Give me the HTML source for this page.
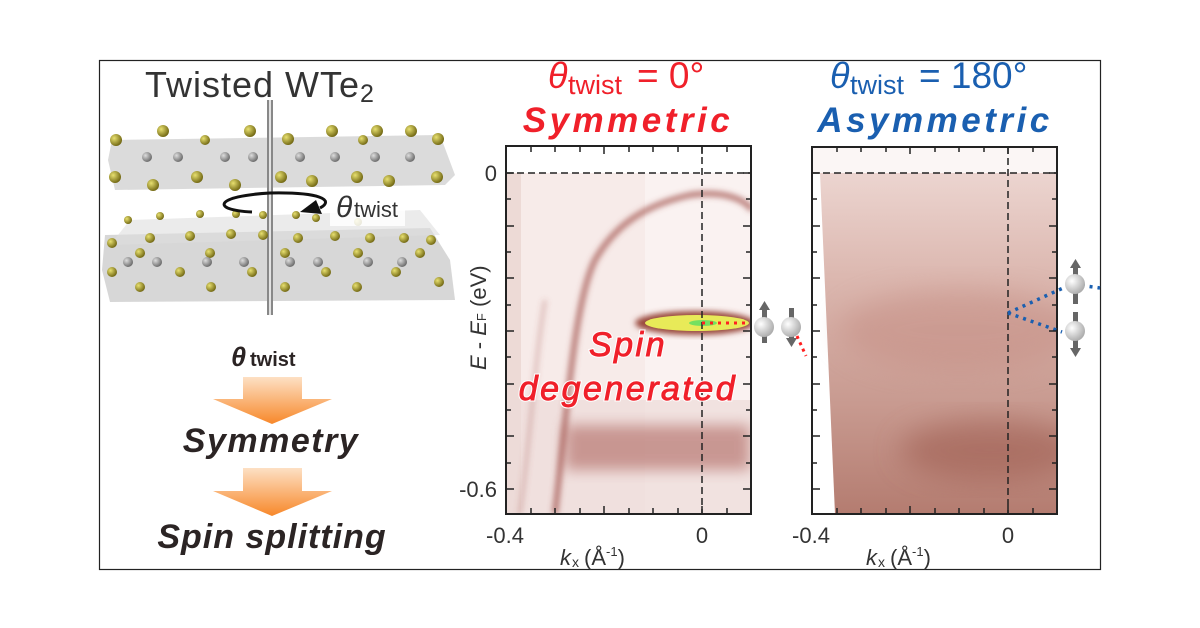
<!DOCTYPE html>
<html><head><meta charset="utf-8"><style>
html,body{margin:0;padding:0;background:#fff;width:1200px;height:628px;overflow:hidden}
svg{display:block}
text{font-family:"Liberation Sans",Arial,sans-serif}
</style></head><body>
<svg width="1200" height="628" viewBox="0 0 1200 628" xmlns="http://www.w3.org/2000/svg">
<defs>
<filter id="b3" x="-20%" y="-20%" width="140%" height="140%"><feGaussianBlur stdDeviation="3"/></filter>
<filter id="b6" x="-30%" y="-30%" width="160%" height="160%"><feGaussianBlur stdDeviation="7"/></filter>
<filter id="b12" x="-30%" y="-30%" width="160%" height="160%"><feGaussianBlur stdDeviation="14"/></filter>
<linearGradient id="orange" x1="0" y1="0" x2="0" y2="1"><stop offset="0" stop-color="#fde0c4"/><stop offset="1" stop-color="#f7882a"/></linearGradient>
<linearGradient id="p2" x1="0" y1="0" x2="0" y2="1"><stop offset="0" stop-color="#f0dcd8"/><stop offset="0.35" stop-color="#dcb8b0"/><stop offset="0.7" stop-color="#c89a90"/><stop offset="1" stop-color="#b47c70"/></linearGradient>
<radialGradient id="ball" cx="0.35" cy="0.35" r="0.7"><stop offset="0" stop-color="#fff"/><stop offset="1" stop-color="#aaa"/></radialGradient>
<radialGradient id="au" cx="0.35" cy="0.35" r="0.7"><stop offset="0" stop-color="#e8e070"/><stop offset="1" stop-color="#6e6410"/></radialGradient>
<radialGradient id="wb" cx="0.35" cy="0.35" r="0.7"><stop offset="0" stop-color="#ddd"/><stop offset="1" stop-color="#666"/></radialGradient>
<clipPath id="c1"><rect x="506" y="146" width="245" height="368"/></clipPath>
<clipPath id="c2"><rect x="812" y="147" width="245" height="367"/></clipPath>
</defs>
<rect x="99.5" y="60.5" width="1001" height="509" fill="none" stroke="#222" stroke-width="1.2"/>

<text x="145" y="97" font-size="36" fill="#333" letter-spacing="1">Twisted WTe<tspan font-size="25" dy="5">2</tspan></text>
<g>
<polygon points="112,140 440,135 455,175 445,185 115,190 108,160" fill="#cfcfcf" opacity="0.75"/>
<polygon points="105,235 430,228 450,260 455,300 110,302 102,270" fill="#cacaca" opacity="0.75"/>
<polygon points="130,220 420,210 440,235 110,245" fill="#dedede" opacity="0.6"/>
<line x1="270" y1="100" x2="270" y2="315" stroke="#888" stroke-width="6"/>
<line x1="270" y1="100" x2="270" y2="315" stroke="#fff" stroke-width="1.5"/>
<g fill="url(#au)">
<circle cx="116" cy="140" r="6"/><circle cx="163" cy="131" r="6"/><circle cx="250" cy="131" r="6"/><circle cx="288" cy="139" r="6"/><circle cx="332" cy="131" r="6"/><circle cx="377" cy="131" r="6"/><circle cx="411" cy="131" r="6"/><circle cx="438" cy="139" r="6"/><circle cx="363" cy="140" r="5"/><circle cx="205" cy="140" r="5"/>
<circle cx="115" cy="177" r="6"/><circle cx="153" cy="185" r="6"/><circle cx="197" cy="177" r="6"/><circle cx="235" cy="185" r="6"/><circle cx="281" cy="177" r="6"/><circle cx="312" cy="181" r="6"/><circle cx="357" cy="177" r="6"/><circle cx="389" cy="181" r="6"/><circle cx="437" cy="177" r="6"/>
<circle cx="112" cy="243" r="5"/><circle cx="150" cy="238" r="5"/><circle cx="190" cy="236" r="5"/><circle cx="231" cy="234" r="5"/><circle cx="263" cy="235" r="5"/><circle cx="298" cy="238" r="5"/><circle cx="335" cy="236" r="5"/><circle cx="370" cy="238" r="5"/><circle cx="404" cy="238" r="5"/><circle cx="431" cy="240" r="5"/>
<circle cx="128" cy="220" r="4"/><circle cx="160" cy="216" r="4"/><circle cx="200" cy="214" r="4"/><circle cx="236" cy="214" r="4"/><circle cx="263" cy="215" r="4"/><circle cx="296" cy="215" r="4"/><circle cx="316" cy="218" r="4"/><circle cx="358" cy="222" r="4"/>
<circle cx="112" cy="272" r="5"/><circle cx="140" cy="287" r="5"/><circle cx="180" cy="272" r="5"/><circle cx="211" cy="287" r="5"/><circle cx="252" cy="272" r="5"/><circle cx="285" cy="287" r="5"/><circle cx="326" cy="272" r="5"/><circle cx="357" cy="287" r="5"/><circle cx="396" cy="272" r="5"/><circle cx="439" cy="282" r="5"/>
<circle cx="140" cy="253" r="5"/><circle cx="210" cy="253" r="5"/><circle cx="285" cy="253" r="5"/><circle cx="358" cy="253" r="5"/><circle cx="420" cy="253" r="5"/>
</g>
<g fill="url(#wb)">
<circle cx="147" cy="157" r="5"/><circle cx="178" cy="157" r="5"/><circle cx="225" cy="157" r="5"/><circle cx="253" cy="157" r="5"/><circle cx="300" cy="157" r="5"/><circle cx="335" cy="157" r="5"/><circle cx="375" cy="157" r="5"/><circle cx="410" cy="157" r="5"/>
<circle cx="128" cy="262" r="5"/><circle cx="157" cy="262" r="5"/><circle cx="207" cy="262" r="5"/><circle cx="244" cy="262" r="5"/><circle cx="290" cy="262" r="5"/><circle cx="318" cy="262" r="5"/><circle cx="368" cy="262" r="5"/><circle cx="402" cy="262" r="5"/>
</g>
<rect x="330" y="192" width="75" height="34" fill="#fff" opacity="0.85"/>
<path d="M252,212 C210,210 215,196 270,193 C320,192 335,200 320,208" fill="none" stroke="#111" stroke-width="3"/>
<polygon points="300,212 316,200 322,214" fill="#111"/>
<text x="336" y="217" font-size="30" font-family="Liberation Serif,serif" font-style="italic" fill="#333">θ</text>
<text x="354" y="217" font-size="22" fill="#333">twist</text>
</g>

<text x="231" y="366" font-size="27" font-family="Liberation Serif,serif" font-style="italic" font-weight="bold" fill="#2b2424">θ</text>
<text x="250" y="366" font-size="20" font-weight="bold" fill="#2b2424">twist</text>
<polygon points="243,377 302,377 302,399 332,399 272,424 213,399 243,399" fill="url(#orange)"/>
<text x="271" y="452" font-size="34" font-weight="bold" font-style="italic" fill="#2b2424" text-anchor="middle" letter-spacing="1.5">Symmetry</text>
<polygon points="243,468 302,468 302,491 332,491 272,516 213,491 243,491" fill="url(#orange)"/>
<text x="272" y="548" font-size="34" font-weight="bold" font-style="italic" fill="#2b2424" text-anchor="middle" letter-spacing="1">Spin splitting</text>

<!-- panel titles -->
<text x="548" y="88" font-size="36" font-family="Liberation Serif,serif" font-style="italic" fill="#f0202a">θ</text>
<text x="568" y="94" font-size="27" fill="#f0202a">twist</text>
<text x="637" y="88" font-size="37" fill="#f0202a">= 0°</text>
<text x="628" y="132" font-size="35" font-weight="bold" font-style="italic" fill="#f0202a" text-anchor="middle" letter-spacing="3.5">Symmetric</text>
<text x="830" y="88" font-size="36" font-family="Liberation Serif,serif" font-style="italic" fill="#1a5fb0">θ</text>
<text x="850" y="94" font-size="27" fill="#1a5fb0">twist</text>
<text x="919" y="88" font-size="37" fill="#1a5fb0">= 180°</text>
<text x="935" y="132" font-size="35" font-weight="bold" font-style="italic" fill="#1a5fb0" text-anchor="middle" letter-spacing="3.5">Asymmetric</text>

<!-- panel 1 -->
<g clip-path="url(#c1)">
<rect x="506" y="146" width="245" height="368" fill="#faf2f1"/>
<rect x="506" y="173" width="139" height="341" fill="#f7ebe9"/>
<rect x="506" y="146" width="245" height="27" fill="#fff"/>
<rect x="506" y="173" width="15" height="341" fill="#eddad6"/>
<rect x="506" y="400" width="245" height="114" fill="#ecdcd8" opacity="0.7"/>
<g filter="url(#b3)" fill="none" stroke="#a05048">
<path d="M555,514 C568,400 575,300 595,260 C615,225 645,205 690,195 C725,190 745,200 752,210" stroke-width="6" opacity="0.7"/>
<path d="M520,514 C530,440 535,360 545,300" stroke-width="4" opacity="0.3"/>
</g>
<rect x="565" y="425" width="185" height="45" fill="#a85a52" opacity="0.55" filter="url(#b6)"/>
<ellipse cx="695" cy="323" rx="60" ry="12" fill="#9a4a3c" filter="url(#b3)"/>
<ellipse cx="697" cy="323" rx="52" ry="8" fill="#e8ea58"/>
<ellipse cx="703" cy="323" rx="14" ry="3" fill="#74e060"/>
<line x1="506" y1="173" x2="751" y2="173" stroke="#222" stroke-width="1.5" stroke-dasharray="7,4"/>
<line x1="702" y1="146" x2="702" y2="514" stroke="#222" stroke-width="1.5" stroke-dasharray="7,4"/>
<line x1="702" y1="323" x2="752" y2="323" stroke="#ff2020" stroke-width="3" stroke-dasharray="3,5"/>
</g>
<rect x="506" y="146" width="245" height="368" fill="none" stroke="#222" stroke-width="2"/>
<g font-size="34" font-style="italic" text-anchor="middle" letter-spacing="2.5" stroke-width="3" paint-order="stroke">
<text x="628" y="356" fill="#f0202a" stroke="#fff">Spin</text>
<text x="628" y="400" fill="#f0202a" stroke="#fff">degenerated</text>
<text x="938" y="356" fill="#1a5fb0" stroke="#fff">Spin</text>
<text x="938" y="400" fill="#1a5fb0" stroke="#fff">splitting</text>
</g>
<g font-size="34" font-style="italic" text-anchor="middle" letter-spacing="2.5" stroke-width="0.9" fill="none">
<text x="628" y="356" stroke="#f0202a">Spin</text>
<text x="628" y="400" stroke="#f0202a">degenerated</text>
<text x="938" y="356" stroke="#1a5fb0">Spin</text>
<text x="938" y="400" stroke="#1a5fb0">splitting</text>
</g>

<!-- panel 2 -->
<g clip-path="url(#c2)">
<rect x="812" y="147" width="245" height="367" fill="url(#p2)"/>
<rect x="812" y="147" width="245" height="26" fill="#fbf6f5"/>
<polygon points="812,173 820,173 835,514 812,514" fill="#fff"/>
<ellipse cx="960" cy="330" rx="120" ry="40" fill="#c48c82" opacity="0.5" filter="url(#b12)"/>
<ellipse cx="990" cy="450" rx="90" ry="30" fill="#9c5a4e" opacity="0.55" filter="url(#b12)"/>
<line x1="812" y1="173" x2="1057" y2="173" stroke="#222" stroke-width="1.5" stroke-dasharray="7,4"/>
<line x1="1008" y1="147" x2="1008" y2="514" stroke="#222" stroke-width="1.5" stroke-dasharray="7,4"/>
</g>
<rect x="812" y="147" width="245" height="367" fill="none" stroke="#222" stroke-width="2"/>
<g stroke="#1a5fb0" stroke-width="3.5" stroke-dasharray="3,5" fill="none">
<path d="M1008,313 L1072,284 L1100,288"/>
<path d="M1008,313 L1062,332"/>
</g>

<g stroke="#222" stroke-width="1.5">
<path d="M506,173h8M506,199h5M506,226h8M506,252h5M506,278h8M506,305h5M506,331h8M506,357h5M506,384h8M506,410h5M506,436h8M506,463h5M506,489h8
M751,173h-8M751,199h-5M751,226h-8M751,252h-5M751,278h-8M751,305h-5M751,331h-8M751,357h-5M751,384h-8M751,410h-5M751,436h-8M751,463h-5M751,489h-8
M531,514v-6M555,514v-6M580,514v-6M604,514v-8M629,514v-6M653,514v-6M678,514v-6M702,514v-8M727,514v-6
M531,146v6M555,146v6M580,146v6M604,146v8M629,146v6M653,146v6M678,146v6M702,146v8M727,146v6"/>
<path transform="translate(306,0)" d="M506,173h8M506,199h5M506,226h8M506,252h5M506,278h8M506,305h5M506,331h8M506,357h5M506,384h8M506,410h5M506,436h8M506,463h5M506,489h8
M751,173h-8M751,199h-5M751,226h-8M751,252h-5M751,278h-8M751,305h-5M751,331h-8M751,357h-5M751,384h-8M751,410h-5M751,436h-8M751,463h-5M751,489h-8
M531,514v-6M555,514v-6M580,514v-6M604,514v-8M629,514v-6M653,514v-6M678,514v-6M702,514v-8M727,514v-6
M531,146v6M555,146v6M580,146v6M604,146v8M629,146v6M653,146v6M678,146v6M702,146v8M727,146v6"/>
</g>
<g font-size="22" fill="#333">
<text x="497" y="181" text-anchor="end">0</text>
<text x="497" y="497" text-anchor="end">-0.6</text>
<text x="505" y="543" text-anchor="middle">-0.4</text>
<text x="702" y="543" text-anchor="middle">0</text>
<text x="811" y="543" text-anchor="middle">-0.4</text>
<text x="1008" y="543" text-anchor="middle">0</text>
<text x="560" y="565" font-style="italic">k</text><text x="572" y="567" font-size="14">x</text><text x="584" y="565"> (Å<tspan font-size="13" dy="-9">-1</tspan><tspan dy="9">)</tspan></text>
<text x="866" y="565" font-style="italic">k</text><text x="878" y="567" font-size="14">x</text><text x="890" y="565"> (Å<tspan font-size="13" dy="-9">-1</tspan><tspan dy="9">)</tspan></text>
<text transform="translate(486,370) rotate(-90)"><tspan font-style="italic">E</tspan> - <tspan font-style="italic">E</tspan><tspan font-size="13">F</tspan> (eV)</text>
</g>

<g>
<rect x="762" y="305" width="5" height="38" fill="#666"/><polygon points="759,310 764.5,301 770,310" fill="#666"/>
<circle cx="764" cy="327" r="10" fill="url(#ball)"/>
<rect x="789" y="308" width="5" height="34" fill="#666"/><polygon points="786,338 791.5,347 797,338" fill="#666"/>
<circle cx="791" cy="327" r="10" fill="url(#ball)"/>
<path d="M797,336 L806,356" stroke="#ff2020" stroke-width="3" stroke-dasharray="3,4"/>
<rect x="1073" y="264" width="5" height="40" fill="#666"/><polygon points="1070,268 1075.5,259 1081,268" fill="#666"/>
<circle cx="1075" cy="284" r="10" fill="url(#ball)"/>
<rect x="1073" y="312" width="5" height="38" fill="#666"/><polygon points="1070,348 1075.5,357 1081,348" fill="#666"/>
<circle cx="1075" cy="331" r="10" fill="url(#ball)"/>
</g>
</svg>
</body></html>
